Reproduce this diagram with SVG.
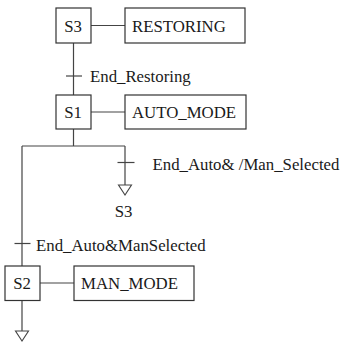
<svg xmlns="http://www.w3.org/2000/svg" width="344" height="343" viewBox="0 0 344 343">
<style>
.box{fill:#fff;stroke:#333;stroke-width:1.2}
.ln{fill:none;stroke:#444;stroke-width:1.2}
.arr{fill:#fff;stroke:#444;stroke-width:1.1}
.c{text-anchor:middle}
</style>
<rect width="344" height="343" fill="#fff"/>
<g font-family="Liberation Serif, Times New Roman, serif" font-size="16.8" fill="#1a1a1a">
<g id="connectors">
<line class="ln" x1="91" y1="25.5" x2="125" y2="25.5"/>
<line class="ln" x1="73.5" y1="43" x2="73.5" y2="95"/>
<line class="ln" x1="66" y1="76" x2="82" y2="76"/>
<line class="ln" x1="91" y1="112" x2="125" y2="112"/>
<line class="ln" x1="73.5" y1="129" x2="73.5" y2="146"/>
<line class="ln" x1="22" y1="146" x2="125" y2="146"/>
<line class="ln" x1="125" y1="146" x2="125" y2="185"/>
<line class="ln" x1="117.5" y1="162.5" x2="134.5" y2="162.5"/>
<polygon class="arr" points="118.5,185 131.5,185 125,195"/>
<line class="ln" x1="22" y1="146" x2="22" y2="266"/>
<line class="ln" x1="14.5" y1="243.5" x2="30.5" y2="243.5"/>
<line class="ln" x1="40" y1="283" x2="74" y2="283"/>
<line class="ln" x1="22" y1="300.5" x2="22" y2="331"/>
<polygon class="arr" points="15.5,331 28.5,331 22,341"/>
<text x="90" y="82">End_Restoring</text>
<text x="152.5" y="169.5">End_Auto&amp; /Man_Selected</text>
<text class="c" x="123.5" y="217">S3</text>
<text x="36" y="250.5">End_Auto&amp;ManSelected</text>
</g>
<g id="S3">
<rect class="box" x="56" y="8" width="35" height="35"/>
<text class="c" x="73" y="32">S3</text>
</g>
<g id="RESTORING">
<rect class="box" x="125" y="8" width="120" height="35"/>
<text x="132" y="32">RESTORING</text>
</g>
<g id="S1">
<rect class="box" x="56" y="95" width="35" height="34"/>
<text class="c" x="73" y="117.5">S1</text>
</g>
<g id="AUTO_MODE">
<rect class="box" x="125" y="95" width="121" height="34"/>
<text x="132" y="117.5">AUTO_MODE</text>
</g>
<g id="S2">
<rect class="box" x="5" y="266" width="35" height="34.5"/>
<text class="c" x="22" y="289">S2</text>
</g>
<g id="MAN_MODE">
<rect class="box" x="74" y="266" width="120" height="34.5"/>
<text x="81" y="289">MAN_MODE</text>
</g>
</g>
</svg>
